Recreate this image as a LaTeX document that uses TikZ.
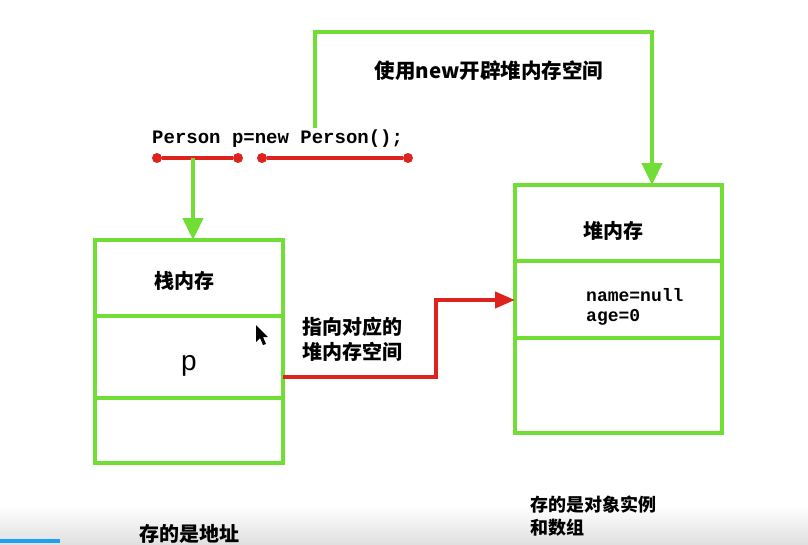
\documentclass[tikz,border=0pt]{standalone}
\usepackage{fontspec}
\setmainfont{Liberation Sans}
\newfontfamily\cjk{Noto Sans CJK SC}
\newfontfamily\codefont{Liberation Mono}
\usetikzlibrary{arrows.meta}
\definecolor{gline}{RGB}{112,222,52}
\definecolor{rline}{RGB}{222,34,30}
\definecolor{pbar}{RGB}{30,160,240}
\tikzset{
  boxline/.style={draw=gline, line width=4.5pt},
  garrow/.style={draw=gline, line width=4.5pt, -{Triangle[length=22pt,width=20pt]}},
  rarrow/.style={draw=rline, line width=4pt, -{Triangle[length=20pt,width=16pt]}},
  rseg/.style={draw=rline, line width=3.5pt},
  dot/.style={circle, fill=rline, inner sep=0pt, minimum size=10pt},
  cjktext/.style={font=\cjk\bfseries\fontsize{20}{24}\selectfont, inner sep=0pt},
  code/.style={font=\codefont\bfseries\fontsize{19}{22}\selectfont, inner sep=0pt},
}
\begin{document}
\begin{tikzpicture}[x=1pt,y=-1pt]
\useasboundingbox (0,0) rectangle (808,544);
% bottom band (video player)
\shade[top color=white, bottom color=black!12] (0,505) rectangle (808,544);
\fill[pbar] (0,539) rectangle (60,543);

% stack box
\draw[boxline] (95,240) rectangle (283,463);
\draw[boxline] (95,316) -- (283,316);
\draw[boxline] (95,398) -- (283,398);
\node[cjktext] (stack) at (184,281) {栈内存};
\node[font=\fontsize{28}{30}\selectfont, inner sep=0pt] (p) at (189,366) {p};
\coordinate (stacktop) at (193,240);
\coordinate (stackp) at (283,377);

% heap box
\draw[boxline] (515,185) rectangle (722,433);
\draw[boxline] (515,261) -- (722,261);
\draw[boxline] (515,338) -- (722,338);
\node[cjktext] (heap) at (613,231) {堆内存};
\node[code, anchor=west, align=left, font=\codefont\bfseries\fontsize{18}{20}\selectfont] (fields) at (586,307) {name=null\\age=0};
\coordinate (heaptop) at (652,185);
\coordinate (heapleft) at (515,300);

% code line
\node[code, anchor=west] (codeline) at (152,139) {Person p=new Person();};
\node[dot] (d1) at (157,158) {};
\node[dot] (d2) at (238,158) {};
\node[dot] (d3) at (262,158) {};
\node[dot] (d4) at (408,158) {};
\draw[rseg] (d1) -- (d2);
\draw[rseg] (d3) -- (d4);

% green arrows
\coordinate (gstart) at (193,158);
\draw[garrow] (gstart) -- (stacktop);
\coordinate (nstart) at (315,128);
\draw[garrow] (nstart) -- (315,32) -- (652,32) -- (heaptop);
\node[cjktext, font=\cjk\bfseries\fontsize{20.5}{24}\selectfont] (newlabel) at (489,71) {使用new开辟堆内存空间};

% red arrow
\draw[rarrow] (stackp) -- (436,377) -- (436,300) -- (heapleft);
\node[cjktext, anchor=west, align=left, font=\cjk\bfseries\fontsize{20}{25}\selectfont] (pointlabel) at (302,339) {指向对应的\\堆内存空间};

% cursor
\fill[black] (256,325) -- (256,342) -- (260,338) -- (263,345) -- (266,344) -- (263,337) -- (268,337) -- cycle;

% bottom labels
\node[cjktext, font=\cjk\bfseries\fontsize{20}{24}\selectfont] (addr) at (189,534) {存的是地址};
\node[cjktext, anchor=west, align=left, font=\cjk\bfseries\fontsize{18}{23}\selectfont] (inst) at (530,516) {存的是对象实例\\和数组};
\end{tikzpicture}
\end{document}
